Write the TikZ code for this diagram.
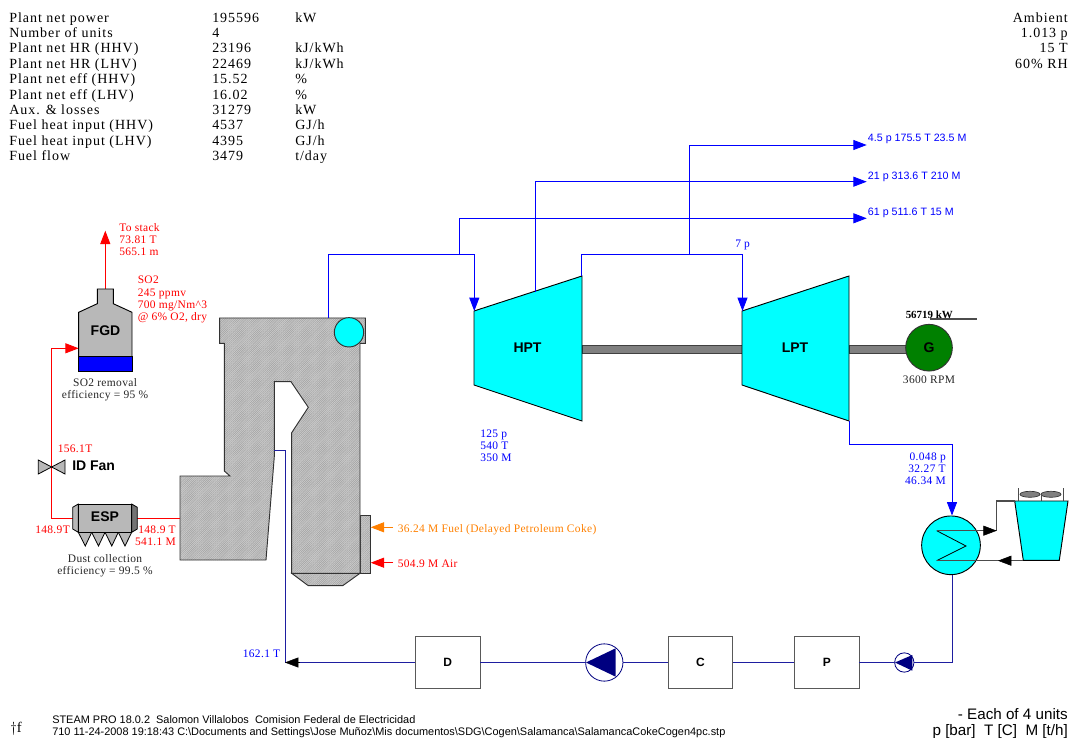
\documentclass[tikz,border=0pt]{standalone}
\usepackage{fontspec}
\setmainfont{Liberation Serif}
\setsansfont{Liberation Sans}
\newfontfamily\sumfont[LetterSpace=7]{Liberation Serif}
\newfontfamily\lblfont[LetterSpace=3]{Liberation Serif}
\usetikzlibrary{arrows.meta,patterns.meta,shapes.geometric}
\definecolor{steamblue}{RGB}{0,0,255}
\definecolor{waterblue}{RGB}{30,30,160}
\definecolor{gasred}{RGB}{255,0,0}
\definecolor{fuelorange}{RGB}{255,128,0}
\definecolor{pumpnavy}{RGB}{0,0,128}
\definecolor{gengreen}{RGB}{0,128,0}
\definecolor{aqua}{RGB}{0,255,255}
\tikzset{
  txt/.style={inner sep=0pt, font=\lblfont\fontsize{8.6pt}{9.2pt}\selectfont, align=left, anchor=north west},
  txtr/.style={txt, align=right, anchor=north east},
  txtc/.style={txt, align=center, anchor=north},
  sumtxt/.style={txt, font=\sumfont\fontsize{10.5pt}{11.55pt}\selectfont},
  ext/.style={txt, text=steamblue, font=\sffamily\fontsize{8pt}{9pt}\selectfont},
  tag/.style={inner sep=0pt, font=\sffamily\bfseries\fontsize{10.5pt}{12pt}\selectfont},
  hatched/.style={draw=black!80, line width=.7pt, preaction={fill=black!20}, pattern={Lines[angle=45,distance=1pt,line width=.25pt]}, pattern color=black!40},
  unitbox/.style={draw=black!65, line width=.7pt, fill=white, rectangle, minimum width=48.3pt, minimum height=38.7pt, inner sep=0pt, font=\sffamily\bfseries\fontsize{9pt}{11pt}\selectfont},
  turbine/.style={draw=black, line width=.7pt, fill=aqua},
  shaft/.style={draw=black!75, line width=.5pt, fill=black!50},
  steam/.style={draw=steamblue, line width=.65pt},
  water/.style={draw=waterblue, line width=.7pt},
  gas/.style={draw=gasred, line width=.7pt},
  cool/.style={draw=black!70, line width=.9pt},
  tip/.style={-{Triangle[length=10pt,width=7.5pt]}},
  fanblade/.style={draw=black!80, line width=.5pt, fill=black!50, ellipse, minimum width=15pt, minimum height=4.5pt, inner sep=0pt},
  post/.style={draw=black!70, line width=.6pt},
  hopper/.style={draw=black, line width=.6pt, fill=black!28}
}
\begin{document}
\begin{tikzpicture}[x=0.75pt,y=-0.75pt]
  \useasboundingbox (0,0) rectangle (1072,738);

  % plant summary
  \node[sumtxt] (names) at (9,11) {\strut Plant net power\\Number of units\\Plant net HR (HHV)\\Plant net HR (LHV)\\Plant net eff (HHV)\\Plant net eff (LHV)\\Aux. \& losses\\Fuel heat input (HHV)\\Fuel heat input (LHV)\\Fuel flow};
  \node[sumtxt] (values) at (212,11) {\strut 195596\\4\\23196\\22469\\15.52\\16.02\\31279\\4537\\4395\\3479};
  \node[sumtxt] (units) at (295,11) {\strut kW\\ \\kJ/kWh\\kJ/kWh\\\%\\\%\\kW\\GJ/h\\GJ/h\\t/day};
  \node[sumtxt, align=right, anchor=north east] (ambient) at (1068,11) {\strut Ambient\\1.013 p\\15 T\\60\% RH};

  % boiler
  \draw[hatched] (291.7,573.3) -- (308.3,585.7) -- (342.7,585.7) -- (360,573.3) -- cycle;
  \draw[hatched] (360,515) rectangle (370.7,573.3);
  \draw[hatched] (219.7,318) -- (365.3,318) -- (365.3,343.3) -- (360,343.3) -- (360,573.3) -- (291.7,573.3) -- (291.7,432.7) -- (308.3,407.3) -- (291,381.7) -- (274.3,381.7) -- (274.3,456.7) -- (266,560) -- (180,560) -- (180,476) -- (230,476) -- (224.3,471) -- (224.3,343.3) -- (219.7,343.3) -- cycle;
  \node[draw=black!80, line width=.7pt, fill=aqua, circle, minimum size=22pt, inner sep=0pt] (drum) at (349,332.3) {};

  % flue gas side
  \coordinate (stacktop) at (105.3,230.7);
  \coordinate (stackbase) at (105.3,289);
  \coordinate (fgdin) at (78.7,348.3);
  \coordinate (gasbend) at (51.7,348.3);
  \coordinate (espleft) at (72.7,518.3);
  \coordinate (espcorner) at (51.7,518.3);
  \coordinate (espright) at (137.3,518.3);
  \coordinate (boilerout) at (180,518.3);
  \draw[gas, tip] (stackbase) -- (stacktop);
  \draw[gas] (boilerout) -- (espright);
  \draw[gas, tip] (espleft) -- (espcorner) -- (gasbend) -- (fgdin);

  \draw[draw=black, line width=.7pt, fill=black!28] (78.7,356.7) -- (78.7,312.3) -- (97.3,303.7) -- (97.3,289) -- (113.3,289) -- (113.3,303.7) -- (132,312.3) -- (132,356.7) -- cycle;
  \draw[draw=black, line width=.7pt, fill=steamblue] (78.7,356.7) rectangle (132.7,371.7);
  \node[tag] (fgd) at (105.5,331) {FGD};

  \draw[hopper] (38.3,460) -- (65,474) -- (65,460) -- (38.3,474) -- cycle;
  \node[tag, anchor=west] (idfan) at (72,465.5) {ID Fan};

  \draw[hopper] (78.3,532.3) -- (91.7,532.3) -- (85.3,546) -- cycle;
  \draw[hopper] (91.7,532.3) -- (105,532.3) -- (98.5,546) -- cycle;
  \draw[hopper] (105,532.3) -- (118.3,532.3) -- (111.8,546) -- cycle;
  \draw[hopper] (118.3,532.3) -- (131.7,532.3) -- (125,546) -- cycle;
  \draw[hopper] (78.3,504) -- (72.7,507.3) -- (72.7,529) -- (78.3,532.3) -- cycle;
  \draw[hopper, fill=black!55] (131.7,504) -- (137.3,507.3) -- (137.3,529) -- (131.7,532.3) -- cycle;
  \node[hopper, minimum width=40pt, minimum height=21.2pt, inner sep=0pt, text depth=3pt, font=\sffamily\bfseries\fontsize{10.5pt}{12pt}\selectfont] (esp) at (105,518.2) {ESP};

  \node[txt, text=gasred] (stacklbl) at (119,223) {To stack\\73.81 T\\565.1 m};
  \node[txt, text=gasred] (so2lbl) at (137.5,276) {SO2\\245 ppmv\\700 mg/Nm\^{}3\\@ 6\% O2, dry};
  \node[txtc, text=black!85] (so2eff) at (105,378) {SO2 removal\\efficiency = 95 \%};
  \node[txt, text=gasred] (fanlbl) at (57.5,444.5) {156.1T};
  \node[txt, text=gasred] (gasleft) at (35,525.5) {148.9T};
  \node[txtr, text=gasred] (gasright) at (176,525.5) {148.9 T\\541.1 M};
  \node[txtc, text=black!85] (espeff) at (105,554) {Dust collection\\efficiency = 99.5 \%};

  % fuel and air
  \coordinate (fuelin) at (370.7,527.3);
  \coordinate (fuelend) at (393,527.3);
  \coordinate (airin) at (370.7,562.7);
  \coordinate (airend) at (393,562.7);
  \draw[draw=fuelorange, line width=.7pt, tip] (fuelend) -- (fuelin);
  \draw[gas, tip] (airend) -- (airin);
  \node[txt, text=fuelorange] (fuellbl) at (397.5,524) {36.24 M Fuel (Delayed Petroleum Coke)};
  \node[txt, text=gasred] (airlbl) at (397.5,559.5) {504.9 M Air};

  % turbines
  \draw[shaft] (582,345.5) rectangle (743,353.5);
  \draw[shaft] (849,345.5) rectangle (906,353.5);
  \draw[turbine] (474,311) -- (582,276) -- (582,421) -- (474,385) -- cycle;
  \draw[turbine] (742,311) -- (849,276) -- (849,421) -- (742,385) -- cycle;
  \node[tag] (hpt) at (527.5,348) {HPT};
  \node[tag] (lpt) at (795,348) {LPT};
  \node[draw=black!80, line width=.7pt, fill=gengreen, circle, minimum size=35pt, inner sep=0pt, font=\sffamily\bfseries\fontsize{10.5pt}{12pt}\selectfont] (gen) at (929,347.7) {G};
  \coordinate (kwleft) at (930,319);
  \coordinate (kwright) at (977,319);
  \draw[draw=black!70, line width=.8pt] (kwleft) -- (kwright);
  \node[txt, font=\bfseries\fontsize{8.2pt}{9pt}\selectfont] (kw) at (905.5,311) {56719 kW};
  \node[txtc, text=black!85] (rpm) at (929,375.5) {3600 RPM};

  % steam lines
  \coordinate (drumout) at (328.3,318);
  \coordinate (hptin) at (474.3,311);
  \coordinate (hpttop) at (474.3,254);
  \coordinate (drumtop) at (328.3,254);
  \coordinate (x61a) at (459,254);
  \coordinate (x61b) at (459,218.3);
  \coordinate (x61c) at (866.7,218.3);
  \coordinate (x21a) at (535,291.7);
  \coordinate (x21b) at (535,181.7);
  \coordinate (x21c) at (866.7,181.7);
  \coordinate (xfera) at (581.7,276);
  \coordinate (xferb) at (581.7,254);
  \coordinate (xferc) at (742.5,254);
  \coordinate (lptin) at (742.5,311);
  \coordinate (x45a) at (689.3,254);
  \coordinate (x45b) at (689.3,145);
  \coordinate (x45c) at (866.7,145);
  \draw[steam, tip] (drumout) -- (drumtop) -- (hpttop) -- (hptin);
  \draw[steam, tip] (x61a) -- (x61b) -- (x61c);
  \draw[steam, tip] (x21a) -- (x21b) -- (x21c);
  \draw[steam, tip] (xfera) -- (xferb) -- (xferc) -- (lptin);
  \draw[steam, tip] (x45a) -- (x45b) -- (x45c);
  \node[ext] (ext45) at (867.7,134) {4.5 p 175.5 T 23.5 M};
  \node[ext] (ext21) at (867.7,171.5) {21 p 313.6 T 210 M};
  \node[ext] (ext61) at (867.7,207.5) {61 p 511.6 T 15 M};
  \node[txt, text=steamblue] (xferlbl) at (735,240) {7 p};
  \node[txt, text=steamblue] (hptlbl) at (480,429.5) {125 p\\540 T\\350 M};

  % condenser and cooling tower
  \coordinate (lptcorner) at (849,421);
  \coordinate (lptout) at (849,444);
  \coordinate (condbend) at (952,444);
  \node[draw=black, line width=.7pt, fill=aqua, circle, minimum size=44pt, inner sep=0pt] (cond) at (951,545.3) {};
  \draw[steam, tip] (lptcorner) -- (lptout) -- (condbend) -- (cond.north-|condbend);
  \node[txtr, text=steamblue] (condlbl) at (946,452.5) {0.048 p\\32.27 T\\46.34 M};
  \draw[draw=black, line width=.7pt, fill=aqua] (1014.7,501) -- (1068,501) -- (1059.3,560.3) -- (1023.3,560.3) -- cycle;
  \coordinate (coilin) at (936.7,530.7);
  \coordinate (coilout) at (936.7,560.7);
  \coordinate (coilmid) at (966,546);
  \coordinate (riser) at (996.7,530.7);
  \coordinate (risertop) at (996.7,501);
  \coordinate (towerin) at (1014.7,501);
  \coordinate (towerout) at (1023.3,560.7);
  \coordinate (coolret) at (998,560.7);
  \draw[draw=black, line width=.6pt] (coilin) -- (coilmid) -- (coilout);
  \draw[cool] (coilin) -- (riser) -- (risertop) -- (towerin);
  \draw[cool] (towerout) -- (coilout);
  \draw[draw=black, tip] (985,530.7) -- (riser);
  \draw[draw=black, tip] (1010,560.7) -- (coolret);
  \node[fanblade] (fana) at (1030,494.3) {};
  \node[fanblade] (fanb) at (1051,494.3) {};
  \draw[post] (1018.3,488) -- (1018.3,501);
  \draw[post] (1041.3,494.3) -- (1041.3,501);
  \draw[post] (1063.3,488) -- (1063.3,501);

  % feed water train
  \node[unitbox] (heatd) at (447.8,662.5) {D};
  \node[unitbox] (heatc) at (700.5,662.5) {C};
  \node[unitbox] (heatp) at (826.8,662.5) {P};
  \node[draw=pumpnavy, line width=.6pt, fill=white, circle, minimum size=28pt, inner sep=0pt] (pumpa) at (604.3,662.5) {};
  \node[draw=pumpnavy, line width=.6pt, fill=white, circle, minimum size=14.5pt, inner sep=0pt] (pumpb) at (904.3,662.5) {};
  \coordinate (condfoot) at (952,662.5);
  \coordinate (feedend) at (285,662.5);
  \coordinate (feedtop) at (285,450.7);
  \coordinate (econ) at (274.3,450.7);
  \draw[water] (cond.south-|condfoot) -- (condfoot) -- (pumpb);
  \draw[water] (pumpb) -- (heatp);
  \draw[water] (heatp) -- (heatc);
  \draw[water] (heatc) -- (pumpa);
  \draw[water] (pumpa) -- (heatd);
  \draw[water] (econ) -- (feedtop) -- (feedend);
  \draw[water] (heatd) -- (feedend);
  \draw[draw=black, tip] (300,662.5) -- (feedend);
  \fill[pumpnavy] (586,662.5) -- (615.7,648.3) -- (615.7,676.7) -- cycle;
  \fill[pumpnavy] (895,662.5) -- (912.3,655) -- (912.3,670.7) -- cycle;
  \node[txtr, text=steamblue] (feedlbl) at (280.5,649.5) {162.1 T};

  % footer
  \node[inner sep=0pt, anchor=west, font=\fontsize{11pt}{11pt}\selectfont] (mark) at (10,729) {$\dagger$f};
  \node[txt, font=\sffamily\fontsize{8.2pt}{9.4pt}\selectfont] (footl) at (52,715) {STEAM PRO 18.0.2\ \ Salomon Villalobos\ \ Comision Federal de Electricidad\\710 11-24-2008 19:18:43 C:\textbackslash Documents and Settings\textbackslash Jose Muñoz\textbackslash Mis documentos\textbackslash SDG\textbackslash Cogen\textbackslash Salamanca\textbackslash SalamancaCokeCogen4pc.stp};
  \node[txtr, font=\sffamily\fontsize{11.4pt}{11.8pt}\selectfont] (footr) at (1068,708) {- Each of 4 units\\p [bar]\ \ T [C]\ \ M [t/h]};
\end{tikzpicture}
\end{document}
